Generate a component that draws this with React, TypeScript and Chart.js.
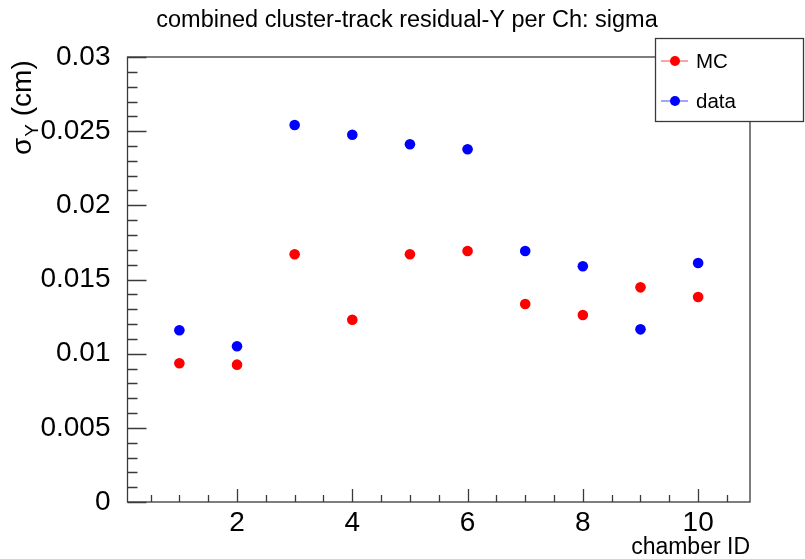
import React, { useEffect, useRef } from 'react';
import { Chart, registerables } from 'chart.js';

Chart.register(...registerables);

// ---- data ----
const chamberIds = [1, 2, 3, 4, 5, 6, 7, 8, 9, 10];
const mcSigma = [0.00935, 0.00926, 0.0167, 0.01229, 0.0167, 0.01692, 0.01335, 0.01261, 0.01447, 0.01382];
const dataSigma = [0.01158, 0.0105, 0.02542, 0.02476, 0.02412, 0.02378, 0.01692, 0.01589, 0.01164, 0.01611];
const xTickValues = [2, 4, 6, 8, 10];
const yTickValues = [0, 0.005, 0.01, 0.015, 0.02, 0.025, 0.03];
const yTickLabels = ['0', '0.005', '0.01', '0.015', '0.02', '0.025', '0.03'];
const seriesNames = ['MC', 'data'];
const seriesColors = ['#ff0000', '#0000ff'];
const titleText = 'combined cluster-track residual-Y per Ch: sigma';
const xTitle = 'chamber ID';

const FONT = '"Liberation Sans", Arial, Helvetica, sans-serif';
const AXIS = '#3a3a3a';

const rootPlugin = {
  id: 'rootFrame',
  afterDraw(chart: any) {
    const { ctx, chartArea: ca, scales } = chart;
    const xs = scales.x;
    const ys = scales.y;
    ctx.save();
    // frame
    ctx.strokeStyle = AXIS;
    ctx.lineWidth = 1.3;
    ctx.strokeRect(ca.left, ca.top, ca.right - ca.left, ca.bottom - ca.top);
    // y ticks (inside)
    ctx.beginPath();
    for (let i = 0; i <= 30; i++) {
      const y = Math.round(ys.getPixelForValue(i * 0.001)) + 0.5;
      const len = i % 5 === 0 ? 19 : 10;
      ctx.moveTo(ca.left, y);
      ctx.lineTo(ca.left + len, y);
    }
    // x ticks (inside)
    for (let i = 1; i <= 21; i++) {
      const v = i * 0.5;
      const x = Math.round(xs.getPixelForValue(v)) + 0.5;
      const len = i % 4 === 0 ? 13 : 7;
      ctx.moveTo(x, ca.bottom);
      ctx.lineTo(x, ca.bottom - len);
    }
    ctx.stroke();

    // title
    ctx.fillStyle = '#000';
    ctx.font = `23.5px ${FONT}`;
    ctx.textAlign = 'center';
    ctx.textBaseline = 'alphabetic';
    ctx.fillText(titleText, 407, 27);

    // x title
    ctx.font = `23px ${FONT}`;
    ctx.textAlign = 'right';
    ctx.fillText(xTitle, 750, 554);

    // y title: sigma_Y (cm)
    ctx.save();
    ctx.translate(31, 155);
    ctx.rotate(-Math.PI / 2);
    ctx.textAlign = 'left';
    ctx.font = `28px ${FONT}`;
    ctx.fillText('σ', 0, 0);
    let w = ctx.measureText('σ').width;
    ctx.font = `19px ${FONT}`;
    ctx.fillText('Y', w + 1, 7);
    w += 1 + ctx.measureText('Y').width;
    ctx.font = `28px ${FONT}`;
    ctx.fillText(' (cm)', w, 0);
    ctx.restore();

    // legend
    const lx = 655, ly = 38, lw = 148, lh = 83;
    ctx.fillStyle = '#fff';
    ctx.fillRect(lx, ly, lw, lh);
    ctx.strokeStyle = AXIS;
    ctx.lineWidth = 1.3;
    ctx.strokeRect(lx + 0.5, ly + 0.5, lw, lh);
    const rows = [61, 101];
    seriesNames.forEach((name, i) => {
      const y = rows[i];
      ctx.strokeStyle = seriesColors[i];
      ctx.globalAlpha = 0.6;
      ctx.lineWidth = 1.2;
      ctx.beginPath();
      ctx.moveTo(661, y);
      ctx.lineTo(688, y);
      ctx.stroke();
      ctx.globalAlpha = 1;
      ctx.fillStyle = seriesColors[i];
      ctx.beginPath();
      ctx.arc(675, y, 5, 0, Math.PI * 2);
      ctx.fill();
      ctx.fillStyle = '#000';
      ctx.font = `20.5px ${FONT}`;
      ctx.textAlign = 'left';
      ctx.textBaseline = 'middle';
      ctx.fillText(name, 696, y + 1);
    });
    ctx.restore();
  },
};

export default function App() {
  const ref = useRef<HTMLCanvasElement | null>(null);
  useEffect(() => {
    if (!ref.current) return;
    const chart = new Chart(ref.current, {
      type: 'scatter',
      data: {
        datasets: [
          {
            label: seriesNames[0],
            data: chamberIds.map((x, i) => ({ x, y: mcSigma[i] })),
            backgroundColor: seriesColors[0],
            borderColor: seriesColors[0],
            borderWidth: 0,
            pointRadius: 5.3,
          },
          {
            label: seriesNames[1],
            data: chamberIds.map((x, i) => ({ x, y: dataSigma[i] })),
            backgroundColor: seriesColors[1],
            borderColor: seriesColors[1],
            borderWidth: 0,
            pointRadius: 5.3,
          },
        ],
      },
      options: {
        responsive: false,
        animation: false,
        devicePixelRatio: 1,
        layout: { padding: { top: 57, right: 55, left: 0, bottom: 0 } },
        plugins: { legend: { display: false }, tooltip: { enabled: false }, title: { display: false } },
        scales: {
          x: {
            type: 'linear',
            position: 'bottom',
            min: 0.1,
            max: 10.9,
            grid: { display: false },
            border: { display: false },
            afterBuildTicks: (s: any) => {
              s.ticks = xTickValues.map((v) => ({ value: v }));
            },
            afterFit: (s: any) => {
              s.height = 57;
            },
            ticks: {
              autoSkip: false,
              maxRotation: 0,
              padding: -4,
              color: '#000',
              font: { family: FONT, size: 28 },
              callback: (v: any) => String(v),
            },
          },
          y: {
            type: 'linear',
            position: 'left',
            min: 0,
            max: 0.03,
            grid: { display: false },
            border: { display: false },
            afterBuildTicks: (s: any) => {
              s.ticks = yTickValues.map((v) => ({ value: v }));
            },
            afterFit: (s: any) => {
              s.width = 127.5;
            },
            ticks: {
              autoSkip: false,
              padding: 9,
              color: '#000',
              font: { family: FONT, size: 28 },
              callback: (_v: any, i: number) => yTickLabels[i],
            },
          },
        },
      },
      plugins: [rootPlugin],
    } as any);
    return () => chart.destroy();
  }, []);
  return (
    <div style={{ position: 'fixed', left: 0, top: 0, width: 805, height: 559, background: '#fff' }}>
      <canvas ref={ref} width={805} height={559} style={{ width: 805, height: 559, display: 'block' }} />
    </div>
  );
}
